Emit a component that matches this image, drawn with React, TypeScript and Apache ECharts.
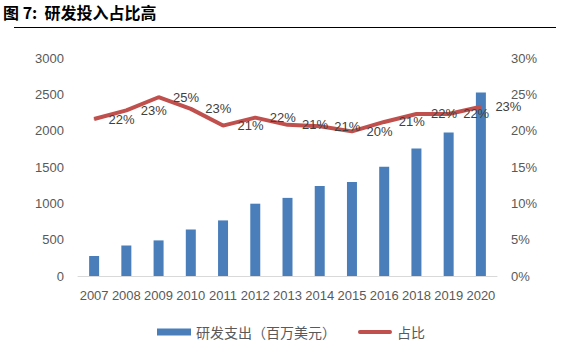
import React, { useEffect, useRef } from "react";
import * as echarts from "echarts";

const categories = ["2007", "2008", "2009", "2010", "2011", "2012", "2013", "2014", "2015", "2016", "2018", "2019", "2020"];
const rdSpend = [275, 420, 490, 640, 765, 995, 1075, 1240, 1295, 1505, 1755, 1975, 2525];
const rdRatio = [21.6, 22.8, 24.6, 23.0, 20.7, 21.8, 20.8, 20.6, 19.9, 21.2, 22.3, 22.3, 23.3];
const barName = "研发支出（百万美元）";
const lineName = "占比";
const titleText = "图 7:  研发投入占比高";

export default function App() {
  const ref = useRef<HTMLDivElement>(null);
  useEffect(() => {
    if (!ref.current) return;
    const chart = echarts.init(ref.current, undefined, { renderer: "svg" });
    const axisFont = { color: "#595959", fontSize: 13, fontFamily: "Liberation Sans" };
    chart.setOption({
      animation: false,
      backgroundColor: "#ffffff",
      graphic: [
        {
          type: "text",
          left: 3,
          top: 4,
          style: {
            text: titleText,
            fontSize: 16,
            fontWeight: "bold",
            fontFamily: "Noto Sans CJK SC",
            fill: "#000000",
          },
        },
        {
          type: "line",
          shape: { x1: 14, y1: 27.5, x2: 556, y2: 27.5 },
          style: { stroke: "#000000", lineWidth: 1 },
        },
      ],
      legend: {
        left: 152,
        top: 320,
        itemGap: 22,
        itemWidth: 34,
        itemHeight: 7,
        textStyle: { color: "#595959", fontSize: 14, fontFamily: "Noto Sans CJK SC" },
        data: [
          { name: barName, icon: "rect" },
          { name: lineName, icon: "path://M2,0 L34,0 A2,2 0 0 1 34,4 L2,4 A2,2 0 0 1 2,0 Z" },
        ],
      },
      grid: { left: 78, right: 84, top: 58, bottom: 82 },
      xAxis: {
        type: "category",
        data: categories,
        axisLine: { lineStyle: { color: "#D9D9D9" } },
        axisTick: { show: false },
        axisLabel: { ...axisFont, margin: 13, interval: 0 },
      },
      yAxis: [
        {
          type: "value",
          min: 0,
          max: 3000,
          interval: 500,
          splitLine: { show: false },
          axisLine: { show: false },
          axisTick: { show: false },
          axisLabel: { ...axisFont, margin: 14, formatter: (v: number) => String(v) },
        },
        {
          type: "value",
          min: 0,
          max: 30,
          interval: 5,
          splitLine: { show: false },
          axisLine: { show: false },
          axisTick: { show: false },
          axisLabel: { ...axisFont, margin: 14, formatter: "{value}%" },
        },
      ],
      series: [
        {
          name: barName,
          type: "bar",
          data: rdSpend,
          barWidth: 10,
          itemStyle: { color: "#4A7EBB" },
          yAxisIndex: 0,
        },
        {
          name: lineName,
          type: "line",
          data: rdRatio,
          yAxisIndex: 1,
          symbol: "circle",
          symbolSize: 1,
          lineStyle: { color: "#C0504D", width: 4 },
          itemStyle: { color: "#C0504D" },
          label: {
            show: true,
            position: "right",
            distance: 14,
            color: "#404040",
            fontSize: 13,
            fontFamily: "Liberation Sans",
            formatter: (p: any) => Math.round(p.value) + "%",
          },
        },
      ],
    });
    return () => chart.dispose();
  }, []);
  return <div ref={ref} style={{ width: 581, height: 358, position: "absolute", left: 0, top: 0 }} />;
}
